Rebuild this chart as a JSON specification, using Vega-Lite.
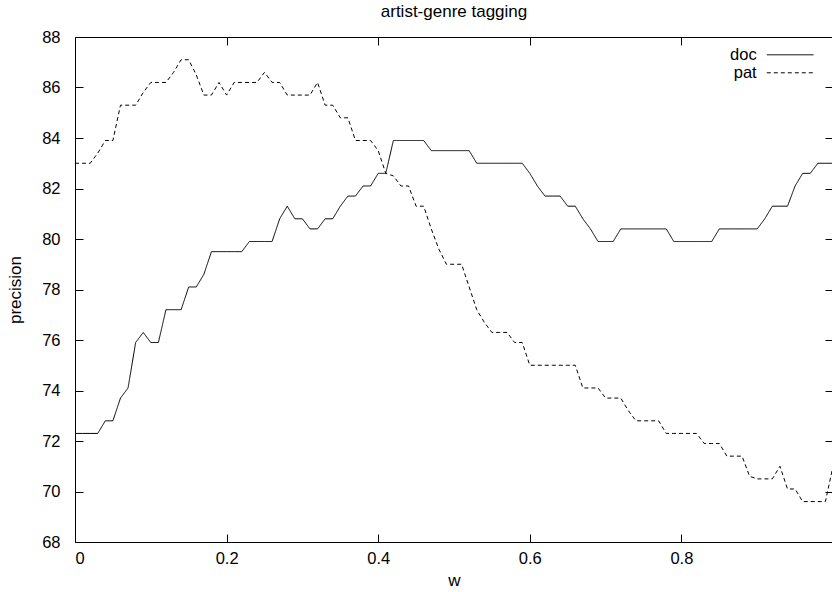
{
  "$schema": "https://vega.github.io/schema/vega-lite/v6.json",
  "width": 758,
  "height": 505,
  "autosize": {"type": "none"},
  "padding": {"left": 75, "top": 37, "right": 0, "bottom": 50},
  "background": "white",
  "title": {"text": "artist-genre tagging", "fontSize": 17, "font": "Liberation Sans", "fontWeight": "normal", "color": "black", "anchor": "middle", "offset": 8},
  "config": {
    "view": {"stroke": "black", "strokeWidth": 1},
    "font": "Liberation Sans",
    "axis": {"domain": false, "grid": false, "tickColor": "black", "tickWidth": 1, "labelColor": "black", "labelFontSize": 16.5, "titleColor": "black", "titleFontSize": 17, "titleFontWeight": "normal", "labelFont": "Liberation Sans", "titleFont": "Liberation Sans"}
  },
  "data": {
    "values": [
      {"w": 0.00, "doc": 72.3, "pat": 83.0},
      {"w": 0.01, "doc": 72.3, "pat": 83.0},
      {"w": 0.02, "doc": 72.3, "pat": 83.0},
      {"w": 0.03, "doc": 72.3, "pat": 83.4},
      {"w": 0.04, "doc": 72.8, "pat": 83.9},
      {"w": 0.05, "doc": 72.8, "pat": 83.9},
      {"w": 0.06, "doc": 73.7, "pat": 85.3},
      {"w": 0.07, "doc": 74.1, "pat": 85.3},
      {"w": 0.08, "doc": 75.9, "pat": 85.3},
      {"w": 0.09, "doc": 76.3, "pat": 85.8},
      {"w": 0.10, "doc": 75.9, "pat": 86.2},
      {"w": 0.11, "doc": 75.9, "pat": 86.2},
      {"w": 0.12, "doc": 77.2, "pat": 86.2},
      {"w": 0.13, "doc": 77.2, "pat": 86.6},
      {"w": 0.14, "doc": 77.2, "pat": 87.1},
      {"w": 0.15, "doc": 78.1, "pat": 87.1},
      {"w": 0.16, "doc": 78.1, "pat": 86.5},
      {"w": 0.17, "doc": 78.6, "pat": 85.7},
      {"w": 0.18, "doc": 79.5, "pat": 85.7},
      {"w": 0.19, "doc": 79.5, "pat": 86.2},
      {"w": 0.20, "doc": 79.5, "pat": 85.7},
      {"w": 0.21, "doc": 79.5, "pat": 86.2},
      {"w": 0.22, "doc": 79.5, "pat": 86.2},
      {"w": 0.23, "doc": 79.9, "pat": 86.2},
      {"w": 0.24, "doc": 79.9, "pat": 86.2},
      {"w": 0.25, "doc": 79.9, "pat": 86.6},
      {"w": 0.26, "doc": 79.9, "pat": 86.2},
      {"w": 0.27, "doc": 80.8, "pat": 86.2},
      {"w": 0.28, "doc": 81.3, "pat": 85.7},
      {"w": 0.29, "doc": 80.8, "pat": 85.7},
      {"w": 0.30, "doc": 80.8, "pat": 85.7},
      {"w": 0.31, "doc": 80.4, "pat": 85.7},
      {"w": 0.32, "doc": 80.4, "pat": 86.2},
      {"w": 0.33, "doc": 80.8, "pat": 85.3},
      {"w": 0.34, "doc": 80.8, "pat": 85.3},
      {"w": 0.35, "doc": 81.3, "pat": 84.8},
      {"w": 0.36, "doc": 81.7, "pat": 84.8},
      {"w": 0.37, "doc": 81.7, "pat": 83.9},
      {"w": 0.38, "doc": 82.1, "pat": 83.9},
      {"w": 0.39, "doc": 82.1, "pat": 83.9},
      {"w": 0.40, "doc": 82.6, "pat": 83.5},
      {"w": 0.41, "doc": 82.6, "pat": 82.6},
      {"w": 0.42, "doc": 83.9, "pat": 82.5},
      {"w": 0.43, "doc": 83.9, "pat": 82.1},
      {"w": 0.44, "doc": 83.9, "pat": 82.1},
      {"w": 0.45, "doc": 83.9, "pat": 81.3},
      {"w": 0.46, "doc": 83.9, "pat": 81.3},
      {"w": 0.47, "doc": 83.5, "pat": 80.4},
      {"w": 0.48, "doc": 83.5, "pat": 79.6},
      {"w": 0.49, "doc": 83.5, "pat": 79.0},
      {"w": 0.50, "doc": 83.5, "pat": 79.0},
      {"w": 0.51, "doc": 83.5, "pat": 79.0},
      {"w": 0.52, "doc": 83.5, "pat": 78.1},
      {"w": 0.53, "doc": 83.0, "pat": 77.2},
      {"w": 0.54, "doc": 83.0, "pat": 76.7},
      {"w": 0.55, "doc": 83.0, "pat": 76.3},
      {"w": 0.56, "doc": 83.0, "pat": 76.3},
      {"w": 0.57, "doc": 83.0, "pat": 76.3},
      {"w": 0.58, "doc": 83.0, "pat": 75.9},
      {"w": 0.59, "doc": 83.0, "pat": 75.9},
      {"w": 0.60, "doc": 82.6, "pat": 75.0},
      {"w": 0.61, "doc": 82.1, "pat": 75.0},
      {"w": 0.62, "doc": 81.7, "pat": 75.0},
      {"w": 0.63, "doc": 81.7, "pat": 75.0},
      {"w": 0.64, "doc": 81.7, "pat": 75.0},
      {"w": 0.65, "doc": 81.3, "pat": 75.0},
      {"w": 0.66, "doc": 81.3, "pat": 75.0},
      {"w": 0.67, "doc": 80.8, "pat": 74.1},
      {"w": 0.68, "doc": 80.4, "pat": 74.1},
      {"w": 0.69, "doc": 79.9, "pat": 74.1},
      {"w": 0.70, "doc": 79.9, "pat": 73.7},
      {"w": 0.71, "doc": 79.9, "pat": 73.7},
      {"w": 0.72, "doc": 80.4, "pat": 73.7},
      {"w": 0.73, "doc": 80.4, "pat": 73.2},
      {"w": 0.74, "doc": 80.4, "pat": 72.8},
      {"w": 0.75, "doc": 80.4, "pat": 72.8},
      {"w": 0.76, "doc": 80.4, "pat": 72.8},
      {"w": 0.77, "doc": 80.4, "pat": 72.8},
      {"w": 0.78, "doc": 80.4, "pat": 72.3},
      {"w": 0.79, "doc": 79.9, "pat": 72.3},
      {"w": 0.80, "doc": 79.9, "pat": 72.3},
      {"w": 0.81, "doc": 79.9, "pat": 72.3},
      {"w": 0.82, "doc": 79.9, "pat": 72.3},
      {"w": 0.83, "doc": 79.9, "pat": 71.9},
      {"w": 0.84, "doc": 79.9, "pat": 71.9},
      {"w": 0.85, "doc": 80.4, "pat": 71.9},
      {"w": 0.86, "doc": 80.4, "pat": 71.4},
      {"w": 0.87, "doc": 80.4, "pat": 71.4},
      {"w": 0.88, "doc": 80.4, "pat": 71.4},
      {"w": 0.89, "doc": 80.4, "pat": 70.6},
      {"w": 0.90, "doc": 80.4, "pat": 70.5},
      {"w": 0.91, "doc": 80.8, "pat": 70.5},
      {"w": 0.92, "doc": 81.3, "pat": 70.5},
      {"w": 0.93, "doc": 81.3, "pat": 71.0},
      {"w": 0.94, "doc": 81.3, "pat": 70.1},
      {"w": 0.95, "doc": 82.1, "pat": 70.1},
      {"w": 0.96, "doc": 82.6, "pat": 69.6},
      {"w": 0.97, "doc": 82.6, "pat": 69.6},
      {"w": 0.98, "doc": 83.0, "pat": 69.6},
      {"w": 0.99, "doc": 83.0, "pat": 69.6},
      {"w": 1.00, "doc": 83.0, "pat": 71.0}
    ]
  },
  "transform": [{"fold": ["doc", "pat"], "as": ["series", "precision"]}],
  "layer": [
    {
      "mark": {"type": "line", "strokeWidth": 1, "color": "black", "clip": true},
      "encoding": {
        "x": {"field": "w", "type": "quantitative", "scale": {"domain": [0, 1], "nice": false}, "axis": {"orient": "bottom", "values": [0, 0.2, 0.4, 0.6, 0.8], "format": "~g", "tickSize": -8, "labelPadding": 16, "title": "w", "titlePadding": 6}},
        "y": {"field": "precision", "type": "quantitative", "scale": {"domain": [68, 88], "nice": false, "zero": false}, "axis": {"orient": "left", "values": [68, 70, 72, 74, 76, 78, 80, 82, 84, 86, 88], "format": "d", "tickSize": -8, "labelPadding": 23, "title": "precision", "titlePadding": 17}},
        "strokeDash": {"field": "series", "type": "nominal", "scale": {"domain": ["doc", "pat"], "range": [[1, 0], [4, 3]]}, "legend": {"orient": "none", "legendX": 705.7, "legendY": 8.3, "title": null, "padding": 0, "symbolType": "M-2.7,0H2.7", "symbolSize": 300, "symbolStrokeWidth": 1, "symbolStrokeColor": "black", "symbolFillColor": "transparent", "labelOffset": -43, "labelAlign": "right", "labelFontSize": 16.5, "labelColor": "black", "labelFont": "Liberation Sans", "rowPadding": 0}}
      }
    },
    {
      "mark": {"type": "line", "strokeOpacity": 0},
      "encoding": {
        "x": {"field": "w", "type": "quantitative", "scale": {"domain": [0, 1], "nice": false}, "axis": {"orient": "top", "values": [0.2, 0.4, 0.6, 0.8], "labels": false, "tickSize": -8, "title": null}},
        "y": {"field": "precision", "type": "quantitative", "scale": {"domain": [68, 88], "nice": false, "zero": false}, "axis": {"orient": "right", "values": [68, 70, 72, 74, 76, 78, 80, 82, 84, 86, 88], "labels": false, "tickSize": -8, "title": null}},
        "detail": {"field": "series", "type": "nominal"}
      }
    }
  ],
  "resolve": {"axis": {"x": "independent", "y": "independent"}}
}
